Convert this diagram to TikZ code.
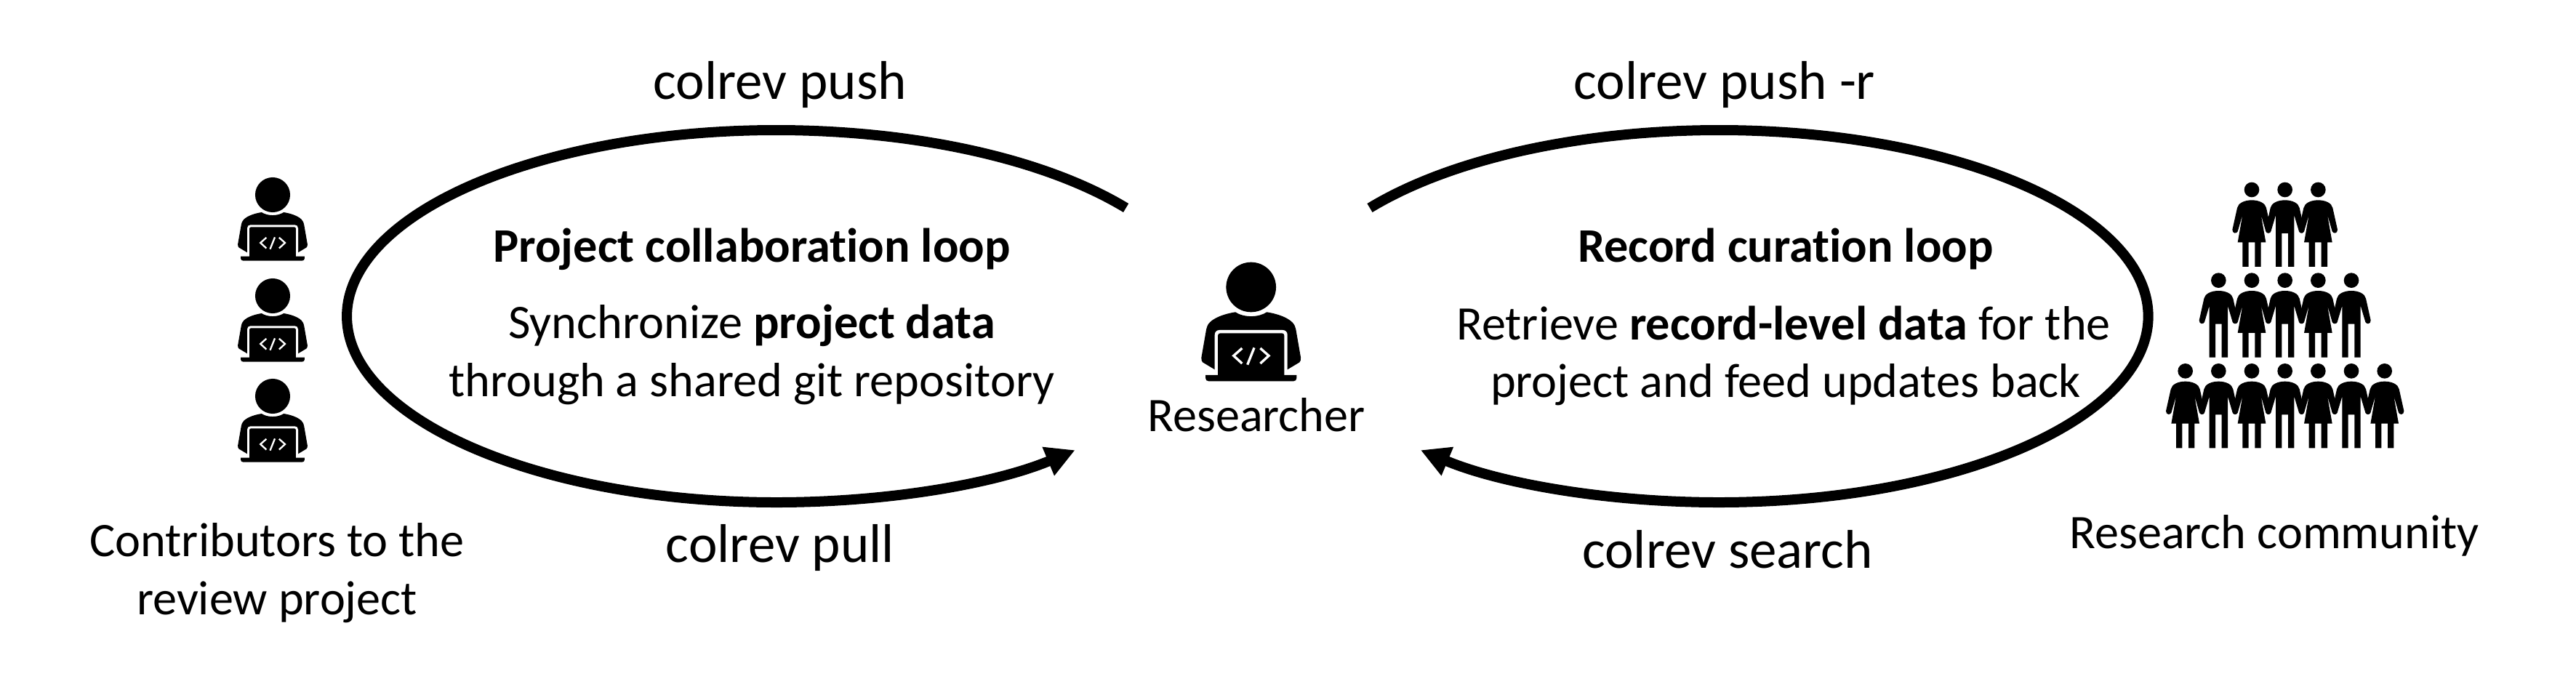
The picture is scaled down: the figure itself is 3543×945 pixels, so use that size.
\documentclass[tikz,border=0pt]{standalone}
\usepackage{fontspec}
\setmainfont{Carlito}[Ligatures=NoCommon]
\usetikzlibrary{arrows.meta}
\tikzset{
  txt/.style={inner sep=0pt,outer sep=0pt,anchor=base,align=center,font=\fontsize{13.25}{16.2}\selectfont},
  cmd/.style={inner sep=0pt,outer sep=0pt,anchor=base,font=\fontsize{15}{17}\selectfont},
  loopline/.style={line width=2.8pt,line cap=butt,-{Triangle[length=8pt,width=8pt]}},
  loopplain/.style={line width=2.8pt,line cap=butt},
  pics/coder/.style={code={
    \fill[black] (0,0) circle[radius=103];
    \fill[black] (-65,103) .. controls (-30,126) and (30,126) .. (65,103)
      .. controls (110,110) and (150,125) .. (170,145)
      .. controls (180,155) and (183,165) .. (185,175)
      -- (205,290) .. controls (206,300) and (204,305) .. (200,310)
      -- (150,340) -- (-150,340) -- (-200,310)
      .. controls (-204,305) and (-206,300) .. (-205,290)
      -- (-185,175) .. controls (-183,165) and (-180,155) .. (-170,145)
      .. controls (-150,125) and (-110,110) .. (-65,103) -- cycle;
    \fill[white] (-150,370) -- (-150,197) .. controls (-150,185) and (-142,177) .. (-130,177)
      -- (130,177) .. controls (142,177) and (150,185) .. (150,197) -- (150,370) -- cycle;
    \fill[black] (-137,370) -- (-137,200) .. controls (-137,194) and (-133,190) .. (-127,190)
      -- (127,190) .. controls (133,190) and (137,194) .. (137,200) -- (137,370) -- cycle;
    \fill[black] (-188,363) -- (188,363) -- (188,375) .. controls (188,383) and (183,388) .. (175,388)
      -- (-175,388) .. controls (-183,388) and (-188,383) .. (-188,375) -- cycle;
    \draw[white,line width=#1] (-37,252) -- (-72,283) -- (-37,315);
    \draw[white,line width=#1] (38,252) -- (73,283) -- (38,315);
    \draw[white,line width=#1] (13,250) -- (-15,320);
  }},
  pics/man/.style={code={
    \fill[black] (0,0) circle[radius=31];
    \fill[black] (-38,318) -- (-38,105) -- (-58,172) .. controls (-62,182) and (-80,182) .. (-80,165)
      -- (-60,75) .. controls (-56,55) and (-30,43) .. (0,43)
      .. controls (30,43) and (56,55) .. (60,75) -- (80,165)
      .. controls (80,182) and (62,182) .. (58,172) -- (38,105) -- (38,318)
      -- (13,318) -- (13,180) -- (-13,180) -- (-13,318) -- cycle;
  }},
  pics/woman/.style={code={
    \fill[black] (0,0) circle[radius=31];
    \fill[black] (-38,318) -- (-38,217) -- (-58,217) -- (-38,103) -- (-58,172)
      .. controls (-62,182) and (-80,182) .. (-80,165)
      -- (-60,75) .. controls (-56,55) and (-30,43) .. (0,43)
      .. controls (30,43) and (56,55) .. (60,75) -- (80,165)
      .. controls (80,182) and (62,182) .. (58,172) -- (38,103) -- (58,217) -- (38,217) -- (38,318)
      -- (13,318) -- (13,217) -- (-13,217) -- (-13,318) -- cycle;
  }}
}
\begin{document}
\begin{tikzpicture}[x=0.2pt,y=-0.2pt]
\useasboundingbox (0,0) rectangle (3543,945);
% loops
\coordinate (leftstart) at (1548.6,286);
\coordinate (rightstart) at (1884,286);
\draw[loopplain] (leftstart) arc[start angle=35.6,end angle=180,x radius=118.2pt,y radius=51.2pt] coordinate (leftmid);
\draw[loopline] (leftmid) arc[start angle=180,end angle=314,x radius=118.2pt,y radius=51.2pt];
\draw[loopplain] (rightstart) arc[start angle=144.4,end angle=0,x radius=118.1pt,y radius=51.2pt] coordinate (rightmid);
\draw[loopline] (rightmid) arc[start angle=0,end angle=-134,x radius=118.1pt,y radius=51.2pt];
% coders
\pic[scale=0.2333] at (375,268) {coder=0.46pt};
\pic[scale=0.2333] at (375,407) {coder=0.46pt};
\pic[scale=0.2333] at (375,545) {coder=0.46pt};
\pic[scale=0.3333] at (1720.7,395) {coder=0.67pt};
% community
\foreach \c/\r in {441/123,715/123, 441/497,715/497, 167/871,441/871,715/871,989/871}
  \pic[scale=0.3333] at ({2950+\c/3},{220+\r/3}) {woman};
\foreach \c/\r in {578/123, 304/497,578/497,852/497, 304/871,578/871,852/871}
  \pic[scale=0.3333] at ({2950+\c/3},{220+\r/3}) {man};
% labels
\node[cmd] (pushl) at (1073,137) {colrev push};
\node[cmd] (pulll) at (1073,773) {colrev pull};
\node[cmd] (pushr) at (2372,137) {colrev push -r};
\node[cmd] (searchr) at (2376,781) {colrev search};
\node[txt] (titlel) at (1034,360) {\textbf{Project collaboration loop}};
\node[txt] (descl1) at (1034,465) {Synchronize \textbf{project data}};
\node[txt] (descl2) at (1034,545) {through a shared git repository};
\node[txt] (titler) at (2456,360) {\textbf{Record curation loop}};
\node[txt] (descr1) at (2453,467) {Retrieve \textbf{record-level data} for the};
\node[txt] (descr2) at (2456,546) {project and feed updates back};
\node[txt] (researcher) at (1728,593) {Researcher};
\node[txt] (community) at (3128,754) {Research community};
\node[txt] (contrib1) at (381,765) {Contributors to the};
\node[txt] (contrib2) at (381,845) {review project};
\end{tikzpicture}
\end{document}
